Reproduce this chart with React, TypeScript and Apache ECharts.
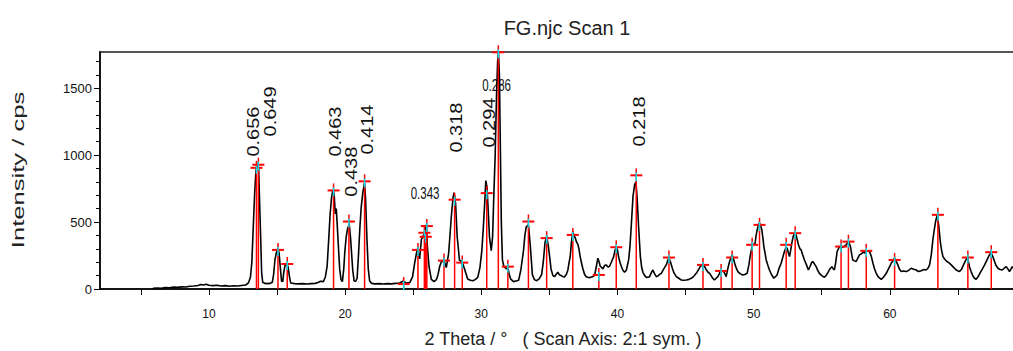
import React, { useEffect, useRef } from "react";
import * as echarts from "echarts";

// 2-theta (deg) and intensity (cps) of the scan
const scan: [number, number][] = [
  [5.89, 5], [6.2, 8], [6.5, 6], [6.8, 10], [7.1, 9], [7.4, 14], [7.7, 12], [8.0, 16], [8.3, 15], [8.6, 20],
  [8.9, 22], [9.2, 26], [9.4, 33], [9.6, 30], [9.8, 35], [10.0, 28], [10.3, 25], [10.6, 28], [10.9, 22], [11.2, 25],
  [11.5, 20], [11.8, 24], [12.1, 22], [12.4, 26], [12.7, 30], [12.9, 45], [13.05, 90], [13.15, 200], [13.25, 450],
  [13.35, 700], [13.45, 880], [13.55, 935], [13.65, 900], [13.72, 650], [13.8, 380], [13.87, 120], [13.95, 50],
  [14.1, 42], [14.3, 40], [14.5, 42], [14.65, 50], [14.75, 110], [14.85, 220], [14.95, 270], [15.05, 300],
  [15.15, 270], [15.25, 150], [15.33, 60], [15.42, 55], [15.5, 130], [15.6, 180], [15.72, 190], [15.82, 160],
  [15.9, 100], [16.0, 45], [16.3, 40], [16.6, 38], [16.9, 40], [17.2, 37], [17.5, 40], [17.8, 42], [18.0, 48],
  [18.2, 58], [18.4, 55], [18.55, 90], [18.68, 170], [18.8, 380], [18.9, 560], [19.0, 680], [19.1, 740],
  [19.2, 700], [19.28, 560], [19.35, 600], [19.42, 480], [19.5, 330], [19.6, 150], [19.7, 70], [19.8, 55],
  [19.9, 150], [19.98, 280], [20.08, 390], [20.18, 450], [20.3, 485], [20.4, 380], [20.48, 260], [20.56, 140],
  [20.66, 60], [20.78, 58], [20.88, 80], [20.98, 250], [21.08, 450], [21.18, 610], [21.3, 720], [21.42, 790],
  [21.5, 680], [21.6, 380], [21.7, 150], [21.8, 60], [21.95, 42], [22.2, 38], [22.5, 40], [22.8, 37], [23.1, 40],
  [23.4, 38], [23.7, 42], [24.0, 45], [24.25, 58], [24.5, 45], [24.75, 48], [24.95, 90], [25.1, 190], [25.3, 300],
  [25.47, 225], [25.6, 370], [25.75, 400], [25.85, 420], [25.96, 480], [26.04, 320], [26.16, 170], [26.33, 72],
  [26.53, 55], [26.7, 70], [26.82, 107], [26.95, 170], [27.06, 202], [27.26, 215], [27.43, 160], [27.6, 265],
  [27.7, 400], [27.8, 541], [27.92, 680], [28.0, 720], [28.11, 640], [28.23, 390], [28.4, 215], [28.6, 200],
  [28.77, 150], [29.0, 75], [29.2, 65], [29.38, 62], [29.55, 70], [29.74, 87], [29.9, 160], [30.04, 287],
  [30.15, 460], [30.25, 640], [30.33, 810], [30.42, 760], [30.5, 600], [30.6, 391], [30.73, 287], [30.83, 390],
  [30.92, 700], [31.02, 1000], [31.12, 1450], [31.2, 1700], [31.26, 1765], [31.33, 1600], [31.4, 1050],
  [31.47, 500], [31.55, 220], [31.65, 170], [31.75, 160], [31.85, 150], [31.95, 162], [32.05, 110], [32.15, 75],
  [32.37, 55], [32.55, 60], [32.74, 65], [32.9, 140], [33.1, 287], [33.2, 400], [33.3, 464], [33.46, 480],
  [33.6, 322], [33.75, 107], [33.9, 70], [34.07, 62], [34.25, 75], [34.43, 107], [34.55, 200], [34.68, 347],
  [34.8, 392], [34.92, 322], [35.02, 240], [35.12, 150], [35.26, 100], [35.38, 92], [35.5, 110], [35.62, 125],
  [35.75, 105], [35.87, 100], [36.0, 92], [36.11, 90], [36.25, 110], [36.36, 142], [36.45, 200], [36.53, 242],
  [36.62, 350], [36.72, 429], [36.82, 400], [36.92, 375], [37.0, 350], [37.09, 334], [37.17, 300], [37.26, 242],
  [37.35, 200], [37.45, 155], [37.58, 110], [37.7, 92], [37.82, 88], [37.95, 85], [38.15, 92], [38.32, 100],
  [38.45, 170], [38.56, 230], [38.66, 200], [38.73, 170], [38.85, 160], [38.93, 150], [39.05, 175], [39.17, 180],
  [39.3, 165], [39.42, 170], [39.55, 200], [39.72, 242], [39.82, 290], [39.91, 310], [40.0, 290], [40.08, 242],
  [40.18, 200], [40.28, 170], [40.4, 140], [40.52, 125], [40.65, 140], [40.82, 217], [40.92, 320], [41.01, 467],
  [41.14, 691], [41.26, 779], [41.36, 800], [41.45, 666], [41.55, 467], [41.68, 242], [41.78, 160], [41.87, 125],
  [42.0, 100], [42.12, 87], [42.25, 88], [42.36, 92], [42.48, 120], [42.6, 142], [42.72, 115], [42.85, 92],
  [43.0, 100], [43.1, 110], [43.22, 117], [43.4, 150], [43.58, 180], [43.7, 215], [43.78, 230], [43.9, 200],
  [44.03, 155], [44.15, 120], [44.32, 92], [44.5, 80], [44.69, 67], [44.85, 65], [45.06, 67], [45.25, 72],
  [45.42, 80], [45.6, 95], [45.79, 117], [45.95, 145], [46.08, 167], [46.28, 187], [46.4, 167], [46.53, 142],
  [46.65, 125], [46.77, 117], [46.9, 95], [47.0, 80], [47.12, 67], [47.25, 80], [47.37, 92], [47.48, 115],
  [47.56, 137], [47.7, 132], [47.81, 130], [47.9, 110], [47.98, 92], [48.1, 150], [48.23, 205], [48.42, 255],
  [48.55, 215], [48.64, 180], [48.75, 150], [48.84, 130], [49.0, 115], [49.2, 105], [49.35, 108], [49.52, 117],
  [49.65, 180], [49.74, 242], [49.85, 300], [49.94, 330], [50.03, 335], [50.11, 342], [50.18, 400], [50.26, 442],
  [50.35, 480], [50.43, 492], [50.52, 470], [50.6, 442], [50.68, 380], [50.75, 317], [50.85, 260], [50.92, 217],
  [51.05, 175], [51.16, 142], [51.3, 110], [51.48, 80], [51.6, 92], [51.72, 105], [51.85, 150], [52.02, 192],
  [52.15, 240], [52.26, 280], [52.38, 310], [52.46, 305], [52.55, 270], [52.63, 242], [52.72, 290], [52.8, 342],
  [52.9, 390], [53.0, 417], [53.08, 415], [53.14, 392], [53.22, 360], [53.29, 330], [53.4, 300], [53.49, 292],
  [53.6, 255], [53.73, 217], [53.88, 180], [54.02, 142], [54.15, 170], [54.25, 195], [54.34, 205], [54.45, 190],
  [54.59, 167], [54.7, 140], [54.83, 117], [55.0, 100], [55.2, 87], [55.35, 105], [55.49, 130], [55.6, 150],
  [55.74, 167], [55.85, 150], [55.93, 142], [56.03, 200], [56.13, 280], [56.3, 317], [56.42, 315], [56.55, 312],
  [56.68, 320], [56.79, 330], [56.9, 345], [56.96, 355], [57.04, 335], [57.11, 317], [57.2, 260], [57.28, 217],
  [57.4, 210], [57.52, 205], [57.65, 230], [57.77, 255], [57.9, 262], [58.0, 270], [58.09, 280], [58.15, 267],
  [58.3, 285], [58.42, 282], [58.51, 280], [58.65, 240], [58.76, 192], [58.88, 150], [59.0, 117], [59.15, 90],
  [59.37, 72], [59.55, 90], [59.74, 117], [59.9, 150], [60.1, 192], [60.25, 215], [60.35, 230], [60.45, 210],
  [60.59, 180], [60.7, 150], [60.84, 130], [61.0, 135], [61.2, 130], [61.4, 140], [61.57, 155], [61.75, 148],
  [61.94, 142], [62.1, 130], [62.31, 137], [62.5, 145], [62.67, 142], [62.8, 155], [62.92, 180], [63.05, 260],
  [63.16, 367], [63.26, 440], [63.36, 504], [63.48, 554], [63.6, 467], [63.72, 342], [63.8, 290], [63.9, 242],
  [64.05, 220], [64.19, 205], [64.35, 195], [64.51, 180], [64.7, 160], [64.88, 142], [65.0, 135], [65.12, 130],
  [65.28, 150], [65.41, 180], [65.55, 210], [65.66, 230], [65.75, 215], [65.85, 167], [65.97, 130], [66.1, 97],
  [66.22, 80], [66.34, 72], [66.5, 95], [66.64, 122], [66.8, 150], [66.96, 180], [67.1, 210], [67.25, 242],
  [67.35, 260], [67.45, 267], [67.57, 240], [67.69, 205], [67.8, 175], [67.94, 155], [68.1, 145], [68.25, 142],
  [68.4, 155], [68.55, 167], [68.67, 150], [68.79, 130], [68.9, 150], [68.99, 167], [69.2, 140], [69.5, 125],
  [69.8, 120],
];

// identified peak positions (2-theta) and marker heights (cps)
const peakPos = [13.49, 13.63, 15.07, 15.75, 19.15, 20.28, 21.43, 24.3, 25.35, 25.82, 25.92, 26.0, 27.26, 28.04,
  28.6, 30.4, 31.25, 31.95, 33.46, 34.8, 36.72, 38.63, 39.91, 41.38, 43.78, 46.28, 47.61, 48.42, 49.89, 50.43,
  52.39, 53.05, 56.42, 56.96, 58.27, 60.35, 63.53, 65.73, 67.45];
const peakVal = [905, 928, 292, 187, 736, 504, 804, 37, 292, 420, 390, 470, 212, 667, 197, 716, 1768, 167, 504,
  380, 404, 105, 312, 849, 235, 180, 135, 235, 330, 479, 330, 417, 317, 354, 285, 217, 554, 235, 275];

// d-spacing labels (nm): anchor 2-theta, anchor intensity, vertical?
const dText = ["0.656", "0.649", "0.463", "0.438", "0.414", "0.343", "0.318", "0.294", "0.286", "0.218"];
const dPos = [13.28, 14.53, 19.3, 20.51, 21.65, 25.87, 28.19, 30.61, 31.12, 41.62];
const dVal = [989, 1139, 989, 689, 1004, 712, 1019, 1056, 1521, 1064];
const dVertical = [1, 1, 1, 1, 1, 0, 1, 1, 0, 1];

const xLabelTicks = [10, 20, 30, 40, 50, 60];
const xTicks = [5, 10, 15, 20, 25, 30, 35, 40, 45, 50, 55, 60, 65];
const yLabelTicks = [0, 500, 1000, 1500];
const yMinorTicks = [100, 200, 300, 400, 600, 700, 800, 900, 1100, 1200, 1300, 1400, 1600, 1700];

const SANS = "'Liberation Sans', Arial, sans-serif";

export default function App() {
  const ref = useRef<HTMLDivElement>(null);
  useEffect(() => {
    if (!ref.current) return;
    const chart = echarts.init(ref.current, null, { renderer: "svg" });
    const peaks = peakPos.map((p, i) => [p, peakVal[i]]);
    const labels = dText.map((t, i) => [dPos[i], dVal[i], dVertical[i]]);
    chart.setOption({
      animation: false,
      backgroundColor: "#ffffff",
      title: {
        text: "FG.njc Scan 1",
        left: 562,
        top: 13,
        textAlign: "center",
        textStyle: { fontFamily: SANS, fontSize: 20, fontWeight: "normal", color: "#222" },
      },
      grid: {
        left: 100, top: 52, width: 926, height: 237,
        outerBoundsMode: "none",
        containLabel: false,
        show: true, borderColor: "#555", borderWidth: 2, backgroundColor: "transparent",
      },
      xAxis: {
        type: "value", min: 2, max: 70,
        name: "2 Theta / °   ( Scan Axis: 2:1 sym. )",
        nameLocation: "middle", nameGap: 41,
        nameTextStyle: { fontFamily: SANS, fontSize: 18, color: "#222" },
        axisLine: { show: true, lineStyle: { color: "#000", width: 1.5 } },
        axisTick: { show: true, customValues: xTicks, length: 6, lineStyle: { color: "#000" } },
        axisLabel: {
          customValues: xLabelTicks, margin: 19, fontFamily: SANS, fontSize: 12, color: "#111",
          formatter: (v: number) => String(v),
        },
        splitLine: { show: false },
      },
      yAxis: [
        {
          type: "value", min: 0, max: 1770,
          axisLine: { show: true, lineStyle: { color: "#000", width: 1.5 } },
          axisTick: { show: true, customValues: yLabelTicks, length: 6, lineStyle: { color: "#000" } },
          axisLabel: {
            customValues: yLabelTicks, margin: 8, fontFamily: SANS, fontSize: 13, color: "#111",
            formatter: (v: number) => String(v),
          },
          splitLine: { show: false },
        },
        {
          type: "value", min: 0, max: 1770, position: "left",
          axisLine: { show: false },
          axisTick: { show: true, customValues: yMinorTicks, length: 4, lineStyle: { color: "#000" } },
          axisLabel: { show: false },
          splitLine: { show: false },
        },
      ],
      graphic: [
        {
          type: "text", x: 19, y: 170, rotation: Math.PI / 2, scaleX: 1.6,
          style: { text: "Intensity / cps", font: "16px " + SANS, fill: "#222", align: "center", verticalAlign: "middle" },
        },
      ],
      series: [
        {
          type: "custom",
          coordinateSystem: "cartesian2d",
          data: labels,
          z: 1,
          renderItem: (params: any, api: any) => {
            const pt = api.coord([api.value(0), api.value(1)]);
            const vertical = api.value(2) === 1;
            const t = dText[params.dataIndex];
            return {
              type: "text",
              x: pt[0], y: pt[1],
              rotation: vertical ? Math.PI / 2 : 0,
              scaleX: vertical ? 1.25 : 0.72,
              style: {
                text: t, font: "16px " + SANS, fill: "#111",
                align: vertical ? "left" : "center", verticalAlign: "middle",
              },
            };
          },
        },
        {
          type: "line",
          data: scan,
          showSymbol: false,
          symbol: "none",
          z: 2,
          lineStyle: { color: "#000", width: 1.6 },
        },
        {
          type: "custom",
          coordinateSystem: "cartesian2d",
          data: peaks,
          z: 3,
          renderItem: (params: any, api: any) => {
            const x = api.value(0);
            const v = api.value(1);
            const p0 = api.coord([x, 0]);
            const p1 = api.coord([x, v]);
            return {
              type: "group",
              children: [
                { type: "line", shape: { x1: p0[0], y1: p0[1], x2: p1[0], y2: p1[1] - 7 }, style: { stroke: "#ff0000", lineWidth: 1.5 } },
                { type: "line", shape: { x1: p1[0] - 6, y1: p1[1], x2: p1[0] + 6, y2: p1[1] }, style: { stroke: "#ff0000", lineWidth: 2 } },
                { type: "line", shape: { x1: p1[0], y1: p1[1] - 3, x2: p1[0], y2: p1[1] + 6 }, style: { stroke: "#00e0ee", lineWidth: 1.5 } },
              ],
            };
          },
        },
      ],
    });
    return () => chart.dispose();
  }, []);
  return <div ref={ref} style={{ position: "absolute", left: 0, top: 0, width: 1013, height: 351 }} />;
}
